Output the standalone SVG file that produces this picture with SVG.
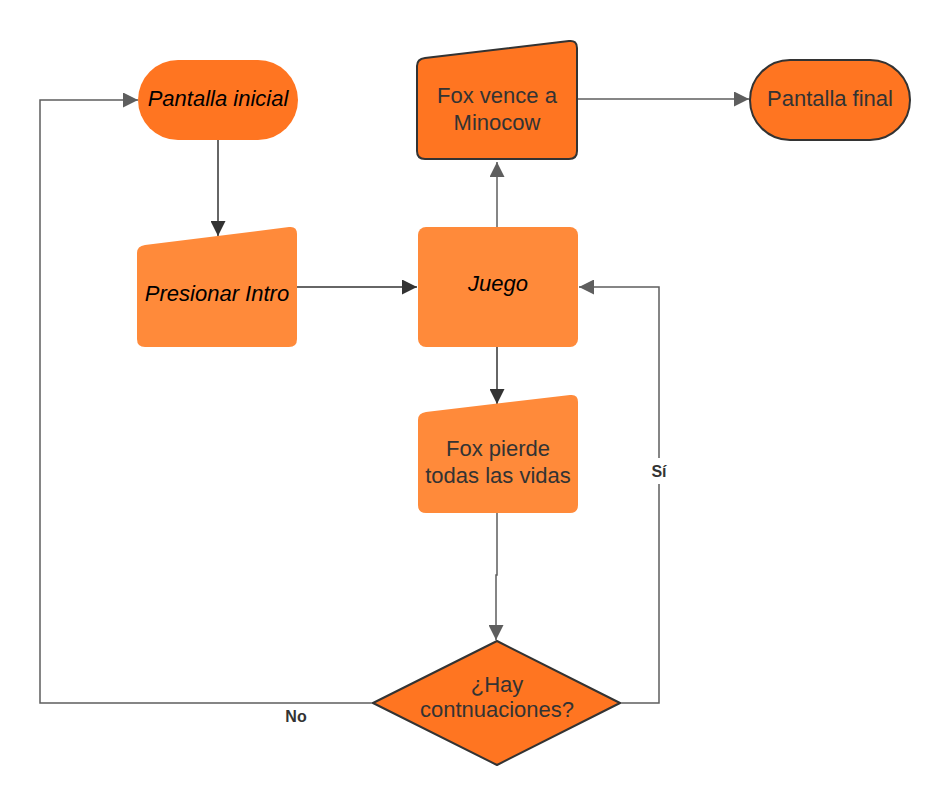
<svg xmlns="http://www.w3.org/2000/svg" width="950" height="807" viewBox="0 0 950 807">
<defs>
<marker id="ad" viewBox="0 0 10 10" refX="10" refY="5" markerWidth="15" markerHeight="15" markerUnits="userSpaceOnUse" orient="auto"><path d="M0,0 L10,5 L0,10 z" fill="#333"/></marker>
<marker id="ag" viewBox="0 0 10 10" refX="10" refY="5" markerWidth="15" markerHeight="15" markerUnits="userSpaceOnUse" orient="auto"><path d="M0,0 L10,5 L0,10 z" fill="#5e5e5e"/></marker>
<style>
.dk{fill:#ff7521}
.lt{fill:#ff8a3a}
.st{stroke:#333;stroke-width:2}
.t{font-family:"Liberation Sans",Arial,sans-serif;font-size:22px;fill:#333;text-anchor:middle}
.ti{font-family:"Liberation Sans",Arial,sans-serif;font-size:22px;font-style:italic;fill:#000;text-anchor:middle}
.lb{font-family:"Liberation Sans",Arial,sans-serif;font-size:16px;font-weight:bold;fill:#333;text-anchor:middle}
.c{fill:none;stroke-width:1.5}
.cd{stroke:#333}
.cg{stroke:#5e5e5e}
</style>
</defs>
<g id="connectors">
<path class="c cd" d="M218,140 V236" marker-end="url(#ad)"/>
<path class="c cd" d="M297,287 H417" marker-end="url(#ad)"/>
<path class="c cg" d="M497,227 V162" marker-end="url(#ag)"/>
<path class="c cg" d="M577,99 H749" marker-end="url(#ag)"/>
<path class="c cd" d="M497,347 V404" marker-end="url(#ad)"/>
<path class="c cg" d="M497,513 V575 H496 V640" marker-end="url(#ag)"/>
<path class="c cg" d="M620,703 H659 V287 H579" marker-end="url(#ag)"/>
<path class="c cg" d="M373,703 H40 V100 H138" marker-end="url(#ag)"/>
<rect x="645" y="458" width="28" height="26" fill="#fff"/>
<text class="lb" x="659" y="477">Sí</text>
<text class="lb" x="296" y="722">No</text>
</g>
<g id="pantalla-inicial">
<rect class="dk" x="138" y="60" width="160" height="80" rx="40"/>
<text class="ti" x="218" y="106">Pantalla inicial</text>
</g>
<g id="presionar-intro">
<path class="lt" d="M145,245 L289,227 Q297,226 297,234 V339 Q297,347 289,347 H145 Q137,347 137,339 V253 Q137,246 145,245 Z"/>
<text class="ti" x="217" y="301">Presionar Intro</text>
</g>
<g id="fox-vence">
<path class="dk st" d="M425,58 L569,41 Q577,40 577,48 V151 Q577,159 569,159 H425 Q417,159 417,151 V66 Q417,59 425,58 Z"/>
<text class="t" x="497" y="103">Fox vence a</text>
<text class="t" x="497" y="130">Minocow</text>
</g>
<g id="pantalla-final">
<rect class="dk st" x="750" y="60" width="160" height="80" rx="40"/>
<text class="t" x="830" y="106">Pantalla final</text>
</g>
<g id="juego">
<rect class="lt" x="418" y="227" width="160" height="120" rx="8"/>
<text class="ti" x="498" y="291">Juego</text>
</g>
<g id="fox-pierde">
<path class="lt" d="M426,412 L570,395 Q578,394 578,402 V505 Q578,513 570,513 H426 Q418,513 418,505 V420 Q418,413 426,412 Z"/>
<text class="t" x="498" y="456">Fox pierde</text>
<text class="t" x="498" y="483">todas las vidas</text>
</g>
<g id="hay-continuaciones">
<path class="dk st" d="M497,641 L620,703 L497,765 L373,703 Z" stroke-linejoin="round"/>
<text class="t" x="497" y="692">¿Hay</text>
<text class="t" x="497" y="717">contnuaciones?</text>
</g>
</svg>
